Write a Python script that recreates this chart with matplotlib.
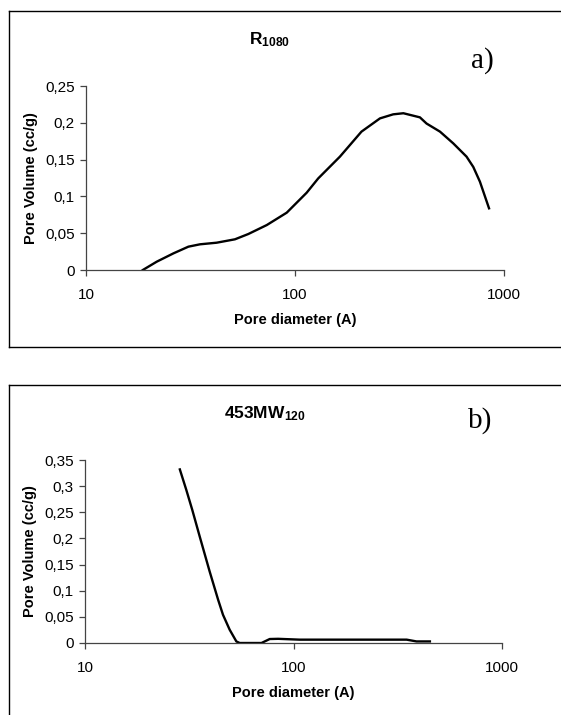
import matplotlib
matplotlib.use('Agg')
from matplotlib import pyplot as plt
from matplotlib.lines import Line2D
from matplotlib.ticker import FixedLocator, NullLocator

plt.rcParams['font.family'] = ['Liberation Sans', 'DejaVu Sans']
plt.rcParams['mathtext.fontset'] = 'custom'
plt.rcParams['mathtext.rm'] = 'Liberation Sans'
plt.rcParams['mathtext.bf'] = 'Liberation Sans:bold'

# panel a) R1080
A_DIAM = [18.7, 21.8, 26.2, 30.9, 35.1, 42.2, 51.6, 59.8, 73.3, 91.3, 113.7, 129.2,
          164, 208, 255, 295, 330, 396, 426, 494, 572, 662, 713, 767, 848]
A_VOL = [0, 0.0113, 0.0226, 0.0317, 0.0349, 0.0371, 0.0417, 0.0489, 0.0611, 0.0779,
         0.105, 0.1245, 0.154, 0.188, 0.206, 0.2115, 0.213, 0.2074, 0.199, 0.188,
         0.172, 0.154, 0.140, 0.120, 0.0838]

# panel b) 453MW120
B_DIAM = [28.5, 30.6, 32.7, 35.5, 39.6, 43.5, 45.9, 49.4, 53.2, 55.2, 70.2, 76.9,
          84.4, 107, 301, 349, 389, 451]
B_VOL = [0.332, 0.293, 0.2545, 0.2036, 0.137, 0.0827, 0.054, 0.0255, 0.003, 0,
         0, 0.0076, 0.008, 0.0064, 0.0064, 0.0064, 0.003, 0.003]

A_TICKS = [0, 0.05, 0.1, 0.15, 0.2, 0.25]
A_TICKLABELS = ['0', '0,05', '0,1', '0,15', '0,2', '0,25']
B_TICKS = [0, 0.05, 0.1, 0.15, 0.2, 0.25, 0.3, 0.35]
B_TICKLABELS = ['0', '0,05', '0,1', '0,15', '0,2', '0,25', '0,3', '0,35']
X_TICKS = [10, 100, 1000]
X_TICKLABELS = ['10', '100', '1000']

W, H = 561, 715


def fx(px):
    return px / W


def fy(py):
    return 1 - py / H


def draw_panel(fig, rect, diam, vol, yticks, yticklabels, ymax):
    ax = fig.add_axes(rect)
    ax.plot(diam, vol, color='black', lw=1.7, solid_joinstyle='round')
    ax.set_xscale('log')
    ax.set_xlim(10, 1000)
    ax.set_ylim(0, ymax)
    ax.xaxis.set_major_locator(FixedLocator(X_TICKS))
    ax.xaxis.set_minor_locator(NullLocator())
    ax.set_xticklabels(X_TICKLABELS)
    ax.set_yticks(yticks)
    ax.set_yticklabels(yticklabels)
    for s in ['top', 'right']:
        ax.spines[s].set_visible(False)
    for s in ['left', 'bottom']:
        ax.spines[s].set_color('#444444')
        ax.spines[s].set_linewidth(0.9)
    ax.tick_params(axis='both', direction='out', length=4, width=0.9,
                   color='#444444', labelsize=11, pad=4)
    ax.tick_params(axis='x', pad=9)
    ax.set_xlabel('Pore diameter (A)', fontsize=10.5, fontweight='bold', labelpad=8)
    ax.set_ylabel('Pore Volume (cc/g)', fontsize=10.5, fontweight='bold', labelpad=5)
    return ax


def main():
    fig = plt.figure(figsize=(W / 100, H / 100), dpi=100)

    # frames around the panels (right / bottom edges run off the image)
    for (x0, y0, y1) in [(9, 11, 347), (9, 385, 720)]:
        fig.add_artist(Line2D([fx(x0), fx(x0)], [fy(y0), fy(y1)], color='black', lw=1.0))
        fig.add_artist(Line2D([fx(x0), 1.01], [fy(y0), fy(y0)], color='black', lw=1.0))
    fig.add_artist(Line2D([fx(9), 1.01], [fy(347), fy(347)], color='black', lw=1.0))

    draw_panel(fig, [fx(86), fy(270), fx(504) - fx(86), fy(86) - fy(270)],
               A_DIAM, A_VOL, A_TICKS, A_TICKLABELS, 0.25)
    draw_panel(fig, [fx(85), fy(643), fx(502) - fx(85), fy(460) - fy(643)],
               B_DIAM, B_VOL, B_TICKS, B_TICKLABELS, 0.35)

    fig.text(fx(270), fy(40), r'$\mathbf{R_{1080}}$', ha='center', va='center', fontsize=12.5)
    fig.text(fx(482), fy(61), 'a)', ha='center', va='center', fontsize=21,
             family='Liberation Serif')
    fig.text(fx(265), fy(414), r'$\mathbf{453MW_{120}}$', ha='center', va='center', fontsize=12.5)
    fig.text(fx(480), fy(421), 'b)', ha='center', va='center', fontsize=21,
             family='Liberation Serif')

    fig.savefig('out.png', dpi=100)


if __name__ == '__main__':
    main()
